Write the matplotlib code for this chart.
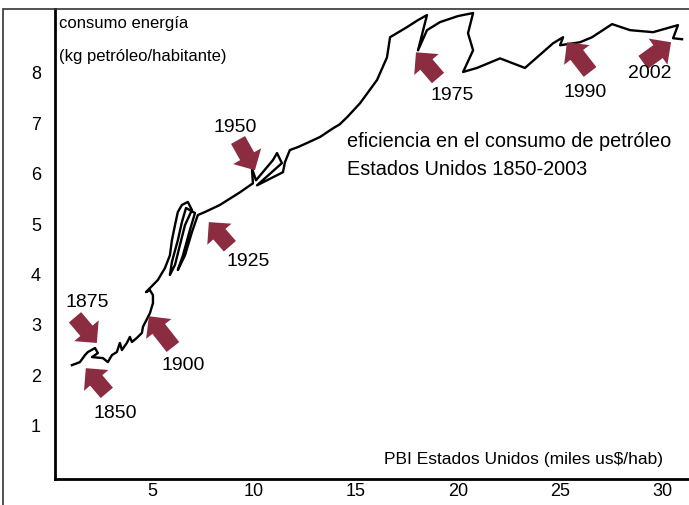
import numpy as np
import matplotlib
matplotlib.use("Agg")
import matplotlib.pyplot as plt
from matplotlib.patches import Rectangle

plt.rcParams['font.family'] = ['Liberation Sans Narrow', 'Liberation Sans', 'DejaVu Sans']

# PBI per capita (miles us$/hab) vs consumo (kg petroleo/hab)
pbi = [1.08, 1.47, 1.72, 1.86, 2.21, 2.35, 2.06, 2.60, 2.84, 3.04, 3.28, 3.43, 3.53, 3.77,
       3.92, 4.02, 4.26, 4.51, 4.56, 4.90, 5.05, 5.05, 4.90, 4.71,
       5.29, 5.64, 5.88, 5.98, 6.13, 6.27, 6.47, 6.76, 6.96, 6.62, 6.37, 6.13, 5.88, 5.98,
       6.27, 6.47, 6.67, 7.11, 6.86, 6.52, 6.27, 6.62, 6.96, 7.25, 7.60, 8.33, 9.31,
       9.95, 9.90, 10.10, 10.93, 11.13, 11.37, 10.15, 11.42, 11.52, 11.76, 12.16, 12.60, 13.24,
       13.87, 14.20, 14.56, 15.20, 16.03, 16.52, 16.67, 17.50, 18.04, 18.48, 18.04, 18.48,
       19.12, 20.00, 20.74, 20.49, 20.74, 20.25, 20.93, 22.06, 23.28, 24.66, 25.15, 25.00,
       25.98, 26.57, 27.55, 28.43, 29.56, 30.78, 30.54, 30.98]
consumo = [2.20, 2.26, 2.40, 2.46, 2.54, 2.44, 2.36, 2.34, 2.26, 2.40, 2.46, 2.64, 2.50, 2.64,
           2.76, 2.66, 2.74, 2.84, 2.96, 3.23, 3.43, 3.59, 3.69, 3.65,
           3.89, 4.13, 4.38, 4.68, 4.98, 5.24, 5.38, 5.44, 5.28, 4.98, 4.58, 4.19, 3.99, 4.25,
           4.68, 5.04, 5.32, 5.22, 4.88, 4.38, 4.09, 4.38, 4.84, 5.18, 5.24, 5.38, 5.63,
           5.81, 6.11, 5.87, 6.27, 6.41, 6.21, 5.77, 6.03, 6.23, 6.47, 6.53, 6.61, 6.73,
           6.90, 6.98, 7.12, 7.40, 7.86, 8.31, 8.71, 8.91, 9.05, 9.15, 8.45, 8.85,
           9.01, 9.13, 9.19, 8.79, 8.45, 8.02, 8.10, 8.29, 8.10, 8.59, 8.71, 8.55,
           8.61, 8.71, 8.97, 8.85, 8.81, 8.95, 8.69, 8.67]

years = ['1850', '1875', '1900', '1925', '1950', '1975', '1990', '2002']
arrow_tail = [(2.79, 1.65), (1.23, 3.15), (6.03, 2.56), (8.82, 4.56), (9.22, 6.67),
              (19.02, 7.90), (26.47, 8.02), (29.07, 8.21)]
arrow_head = [(1.76, 2.14), (2.30, 2.64), (4.85, 3.17), (7.79, 5.04), (10.05, 6.07),
              (17.94, 8.41), (25.34, 8.61), (30.44, 8.61)]
year_pos = [(3.19, 1.25), (1.81, 3.45), (6.52, 2.20), (9.71, 4.25), (9.07, 6.92),
            (19.71, 7.56), (26.23, 7.62), (29.41, 7.98)]

xticks = [5, 10, 15, 20, 25, 30]
yticks = [1, 2, 3, 4, 5, 6, 7, 8]

fig = plt.figure(figsize=(6.89, 5.05), dpi=100)
fig.patches.append(Rectangle((3 / 689, -0.1), 1.2, (505 - 9) / 505 + 0.1,
                             transform=fig.transFigure, fill=False, ec='#333333', lw=1.2))
ax = fig.add_axes([55 / 689, 26 / 505, 634 / 689, 470 / 505])
ax.set_xlim(0.25, 31.32)
ax.set_ylim(-0.06, 9.27)
ax.spines['top'].set_visible(False)
ax.spines['right'].set_visible(False)
ax.spines['left'].set_linewidth(2)
ax.spines['bottom'].set_linewidth(2)
ax.set_xticks(xticks)
ax.set_yticks(yticks)
ax.tick_params(length=0, labelsize=13)
ax.tick_params(axis='y', pad=10)
ax.tick_params(axis='x', pad=3)

ax.plot(pbi, consumo, color='black', lw=1.7)

col = '#8b2c40'
for y, t, h, p in zip(years, arrow_tail, arrow_head, year_pos):
    ax.annotate('', xy=h, xytext=t,
                arrowprops=dict(arrowstyle='simple,head_length=0.55,head_width=1.1,tail_width=0.55',
                                fc=col, ec='none', mutation_scale=21, shrinkA=0, shrinkB=0))
    ax.text(p[0], p[1], y, ha='center', va='center', fontsize=14)

ax.text(0.45, 8.98, 'consumo energía', ha='left', va='center', fontsize=12)
ax.text(0.45, 8.33, '(kg petróleo/habitante)', ha='left', va='center', fontsize=12)
ax.text(14.55, 6.64, 'eficiencia en el consumo de petróleo', ha='left', va='center', fontsize=14.3)
ax.text(14.55, 6.09, 'Estados Unidos 1850-2003', ha='left', va='center', fontsize=14.3)
ax.text(16.35, 0.32, 'PBI Estados Unidos (miles us$/hab)', ha='left', va='center', fontsize=12.5)

fig.savefig('out.png', dpi=100)
